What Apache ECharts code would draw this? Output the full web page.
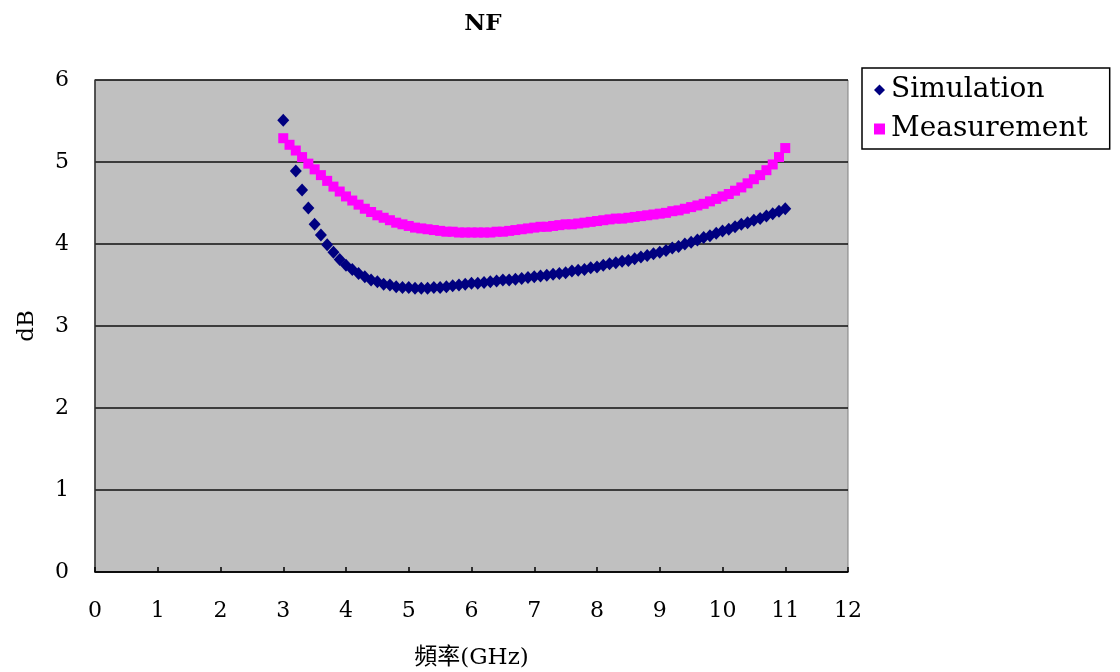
<!DOCTYPE html>
<html>
<head>
<meta charset="utf-8">
<script src="https://cdn.jsdelivr.net/npm/echarts@6/dist/echarts.min.js"></script>
<style>
  html, body { margin: 0; padding: 0; background: #fff; }
  #chart { width: 1120px; height: 672px; }
</style>
</head>
<body>
<div id="chart"></div>
<script>
// Noise figure vs frequency: simulated and measured
const freqSim = [3.0, 3.2, 3.3, 3.4, 3.5, 3.6, 3.7, 3.8, 3.9,
  4.0, 4.1, 4.2, 4.3, 4.4, 4.5, 4.6, 4.7, 4.8, 4.9,
  5.0, 5.1, 5.2, 5.3, 5.4, 5.5, 5.6, 5.7, 5.8, 5.9,
  6.0, 6.1, 6.2, 6.3, 6.4, 6.5, 6.6, 6.7, 6.8, 6.9,
  7.0, 7.1, 7.2, 7.3, 7.4, 7.5, 7.6, 7.7, 7.8, 7.9,
  8.0, 8.1, 8.2, 8.3, 8.4, 8.5, 8.6, 8.7, 8.8, 8.9,
  9.0, 9.1, 9.2, 9.3, 9.4, 9.5, 9.6, 9.7, 9.8, 9.9,
  10.0, 10.1, 10.2, 10.3, 10.4, 10.5, 10.6, 10.7, 10.8, 10.9, 11.0];
const nfSim = [5.51, 4.89, 4.66, 4.44, 4.24, 4.11, 3.99, 3.90, 3.81,
  3.74, 3.69, 3.64, 3.60, 3.56, 3.54, 3.51, 3.50, 3.48, 3.47,
  3.47, 3.46, 3.46, 3.46, 3.47, 3.47, 3.48, 3.49, 3.50, 3.51,
  3.52, 3.52, 3.53, 3.54, 3.55, 3.56, 3.56, 3.57, 3.58, 3.59,
  3.60, 3.61, 3.62, 3.63, 3.64, 3.65, 3.67, 3.68, 3.69, 3.71,
  3.72, 3.74, 3.76, 3.77, 3.79, 3.80, 3.82, 3.84, 3.86, 3.88,
  3.90, 3.92, 3.95, 3.97, 4.00, 4.02, 4.05, 4.08, 4.10, 4.13,
  4.16, 4.18, 4.21, 4.24, 4.26, 4.29, 4.31, 4.34, 4.37, 4.40, 4.43];

const freqMeas = [3.0, 3.1, 3.2, 3.3, 3.4, 3.5, 3.6, 3.7, 3.8, 3.9,
  4.0, 4.1, 4.2, 4.3, 4.4, 4.5, 4.6, 4.7, 4.8, 4.9,
  5.0, 5.1, 5.2, 5.3, 5.4, 5.5, 5.6, 5.7, 5.8, 5.9,
  6.0, 6.1, 6.2, 6.3, 6.4, 6.5, 6.6, 6.7, 6.8, 6.9,
  7.0, 7.1, 7.2, 7.3, 7.4, 7.5, 7.6, 7.7, 7.8, 7.9,
  8.0, 8.1, 8.2, 8.3, 8.4, 8.5, 8.6, 8.7, 8.8, 8.9,
  9.0, 9.1, 9.2, 9.3, 9.4, 9.5, 9.6, 9.7, 9.8, 9.9,
  10.0, 10.1, 10.2, 10.3, 10.4, 10.5, 10.6, 10.7, 10.8, 10.9, 11.0];
const nfMeas = [5.29, 5.21, 5.14, 5.06, 4.98, 4.91, 4.84, 4.77, 4.70, 4.64,
  4.58, 4.53, 4.48, 4.43, 4.39, 4.35, 4.32, 4.29, 4.26, 4.24,
  4.22, 4.20, 4.19, 4.18, 4.17, 4.16, 4.15, 4.15, 4.14, 4.14,
  4.14, 4.14, 4.14, 4.14, 4.15, 4.15, 4.16, 4.17, 4.18, 4.19,
  4.20, 4.21, 4.21, 4.22, 4.23, 4.24, 4.24, 4.25, 4.26, 4.27,
  4.28, 4.29, 4.30, 4.31, 4.31, 4.32, 4.33, 4.34, 4.35, 4.36,
  4.37, 4.38, 4.40, 4.41, 4.43, 4.45, 4.47, 4.49, 4.52, 4.55,
  4.58, 4.61, 4.65, 4.69, 4.74, 4.79, 4.84, 4.90, 4.97, 5.06, 5.17];

const seriesNames = ['Simulation', 'Measurement'];
const titleText = 'NF';
const xAxisName = '頻率(GHz)';
const yAxisName = 'dB';

const serif = '"DejaVu Serif", "Liberation Serif", "Noto Sans CJK TC", serif';

const zip = (xs, ys) => xs.map((x, i) => [x, ys[i]]);

const chart = echarts.init(document.getElementById('chart'), null, { renderer: 'canvas' });

chart.setOption({
  backgroundColor: '#ffffff',
  animation: false,
  title: {
    text: titleText,
    left: 478,
    top: 8,
    textAlign: 'center',
    textStyle: { fontFamily: serif, fontSize: 23, fontWeight: 'bold', color: '#000' }
  },
  legend: {
    orient: 'vertical',
    left: 862,
    top: 68,
    padding: [8, 22, 6, 12],
    itemGap: 11,
    itemWidth: 11,
    itemHeight: 11,
    backgroundColor: '#ffffff',
    borderColor: '#000000',
    borderWidth: 1.5,
    borderRadius: 0,
    data: [
      { name: seriesNames[0], icon: 'diamond' },
      { name: seriesNames[1], icon: 'rect' }
    ],
    textStyle: { fontFamily: serif, fontSize: 28, color: '#000', padding: [0, 0, 0, 1] }
  },
  grid: {
    left: 95,
    right: 272,
    top: 80,
    bottom: 100,
    outerBoundsMode: 'none',
    containLabel: false,
    show: true,
    backgroundColor: '#c0c0c0',
    borderColor: '#808080',
    borderWidth: 1
  },
  xAxis: {
    type: 'value',
    min: 0,
    max: 12,
    interval: 1,
    name: xAxisName,
    nameLocation: 'middle',
    nameGap: 75,
    nameTextStyle: { fontFamily: serif, fontSize: 23, color: '#000' },
    axisLine: { show: true, onZero: false, lineStyle: { color: '#000', width: 1.5 } },
    axisTick: { show: true, inside: true, length: 5, lineStyle: { color: '#000', width: 1.5 } },
    axisLabel: { margin: 28, fontFamily: serif, fontSize: 22, color: '#000' },
    splitLine: { show: false }
  },
  yAxis: {
    type: 'value',
    min: 0,
    max: 6,
    interval: 1,
    name: yAxisName,
    nameLocation: 'middle',
    nameGap: 56,
    nameRotate: 90,
    nameTextStyle: { fontFamily: serif, fontSize: 23, color: '#000' },
    axisLine: { show: true, onZero: false, lineStyle: { color: '#333', width: 1.5 } },
    axisTick: { show: false },
    axisLabel: { margin: 26, fontFamily: serif, fontSize: 22, color: '#000' },
    splitLine: { show: true, lineStyle: { color: '#111', width: 1.5 } }
  },
  series: [
    {
      name: seriesNames[0],
      type: 'scatter',
      symbol: 'diamond',
      symbolSize: [12, 13],
      z: 3,
      itemStyle: { color: '#000080', opacity: 1 },
      data: zip(freqSim, nfSim)
    },
    {
      name: seriesNames[1],
      type: 'scatter',
      symbol: 'rect',
      symbolSize: 10,
      z: 2,
      itemStyle: { color: '#ff00ff', opacity: 1 },
      data: zip(freqMeas, nfMeas)
    }
  ]
});
</script>
</body>
</html>
